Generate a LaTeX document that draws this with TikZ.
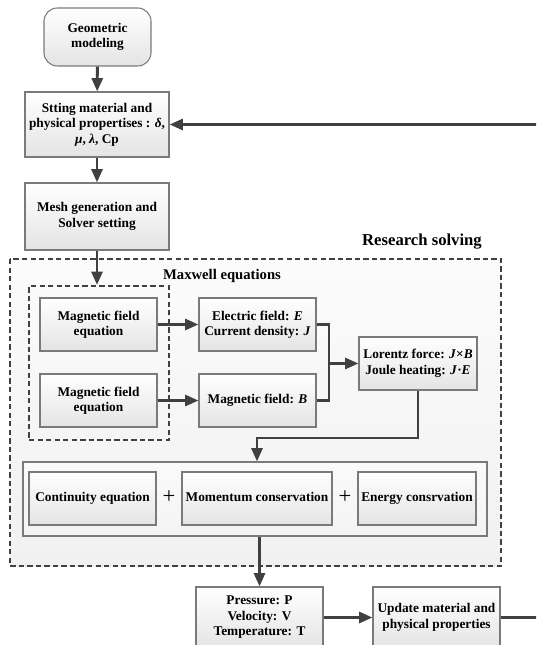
\documentclass[tikz,border=0pt]{standalone}
\usepackage{fontspec}
\setmainfont{Liberation Serif}
\usetikzlibrary{arrows.meta}
\definecolor{boxborder}{HTML}{7A7A7A}
\definecolor{boxbottom}{HTML}{E4E4E4}
\definecolor{arrowc}{HTML}{404040}
\tikzset{
  box/.style={draw=boxborder, line width=0.8pt, top color=white, bottom color=boxbottom,
    align=center, font=\bfseries\fontsize{10}{11.6}\selectfont, inner sep=1pt},
  one/.style={text height=7pt, text depth=2.2pt},
  sz/.style 2 args={minimum width=#1*0.75pt, minimum height=#2*0.75pt},
  arr/.style={draw=arrowc, line width=2.2pt, -{Triangle[length=10pt,width=8.2pt]}},
  ln/.style={draw=arrowc, line width=2.2pt},
  dbox/.style={draw=arrowc, line width=1.6pt, dash pattern=on 4pt off 2.4pt},
  plus/.style={font=\fontsize{17}{17}\selectfont, inner sep=0pt},
}
\begin{document}
\begin{tikzpicture}[x=0.75pt,y=-0.75pt]
\clip (0,0) rectangle (536,645);
% outer research region
\path[dbox, top color=gray!3, bottom color=gray!11] (10,259) rectangle (501,566);
\node[font=\bfseries\fontsize{12.5}{14}\selectfont] (rs) at (422,242) {Research solving};
\node[font=\bfseries\fontsize{11}{12}\selectfont] (mx) at (222,276) {Maxwell equations};
% group box for conservation equations
\node[draw=boxborder, line width=0.8pt, top color=gray!4, bottom color=gray!9, sz={464}{74}] (grp) at (255,499) {};
% inner dashed box
\node[dbox, sz={140}{154}, inner sep=0pt] (inner) at (99,363) {};

\node[box, rounded corners=10pt, sz={107}{58}] (geo) at (97.5,37) {Geometric\\modeling};
\node[box, sz={144}{65}] (prop) at (97,124.5) {Stting material and\\physical propertises : \textit{δ},\\\textit{μ}, \textit{λ}, Cp};
\node[box, sz={144}{67}] (mesh) at (97,216.5) {Mesh generation and\\Solver setting};

\node[box, sz={117}{53}] (mfe1) at (98.5,324.5) {Magnetic field\\equation};
\node[box, sz={117}{53}] (mfe2) at (98.5,400.5) {Magnetic field\\equation};
\node[box, sz={117}{53}] (ef) at (257.5,324.5) {Electric field: \textit{E}\\Current density: \textit{J}};
\node[box, one, sz={117}{53}] (mb) at (257.5,400.5) {Magnetic field: \textit{B}};
\node[box, sz={118}{53}] (lor) at (418,363.5) {Lorentz force: \textit{J}×\textit{B}\\Joule heating: \textit{J}·\textit{E}};

\node[box, one, sz={127}{53}] (cont) at (92.5,498.5) {Continuity equation};
\node[box, one, sz={150}{53}] (mom) at (257,498.5) {Momentum conservation};
\node[box, one, sz={118}{53}] (ene) at (417,498.5) {Energy consrvation};
\node[plus] (p1) at (169,497) {+};
\node[plus] (p2) at (345,497) {+};

\node[box, sz={127}{61}] (pvt) at (259.5,617.5) {Pressure: P\\Velocity: V\\Temperature: T};
\node[box, sz={127}{61}] (upd) at (436.5,617.5) {Update material and\\physical properties};

% connectors
\draw[arr] (geo) -- (prop);
\draw[arr] (prop) -- (mesh);
\draw[arr] (mesh) -- (inner.north -| mesh);
\draw[arr] (mfe1) -- (ef);
\draw[arr] (mfe2) -- (mb);
\coordinate (j) at (329,363.5);
\draw[ln] (ef.east) -| (j) |- (mb.east);
\draw[arr] (j) -- (lor.west);
\coordinate (k) at (257,438);
\draw[arr] (lor.south) |- (k) -- (k |- grp.north);
\draw[arr] (pvt.north |- grp.south) -- (pvt.north);
\draw[arr] (pvt.east |- upd.west) -- (upd.west);
\coordinate (r1) at (545,617.5);
\coordinate (r2) at (545,124.5);
\draw[arr] (upd.east) -- (r1) -- (r2) -- (prop.east);
\end{tikzpicture}
\end{document}
